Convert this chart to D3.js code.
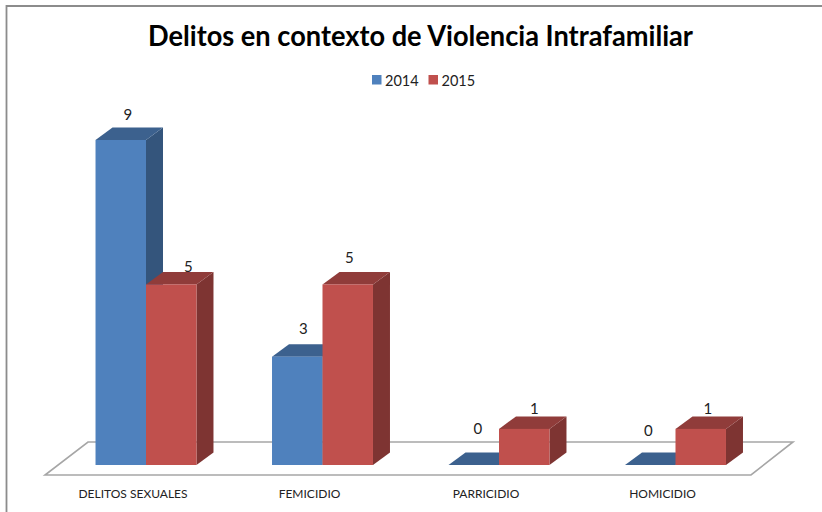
<!DOCTYPE html>
<html><head><meta charset="utf-8">
<script src="https://cdn.jsdelivr.net/npm/d3@7"></script>
<style>html,body{margin:0;padding:0;background:#fff}svg{display:block}text{font-family:Lato,"Open Sans",sans-serif;fill:#222}</style>
</head><body><svg id="c" width="822" height="512"></svg>
<script>
const titleText = "Delitos en contexto de Violencia Intrafamiliar";
const categories = ["DELITOS SEXUALES","FEMICIDIO","PARRICIDIO","HOMICIDIO"];
const seriesNames = ["2014","2015"];
const values2014 = [9,3,0,0];
const values2015 = [5,5,1,1];
const seriesValues = [values2014, values2015];
const palette = {"2014":{front:"#4f81bd",top:"#3c618e",side:"#34557c"},"2015":{front:"#c0504d",top:"#903c3a",side:"#7e3432"}};
// hand-placed data label nudges, as in the source chart (per series, per category)
const labelNudgeX = [[7,6,4,-2],[17,1.5,10,7]];
const labelNudgeY = [[-12.5,-15.5,-23.5,-21.5],[-5,-14,-7.5,-7.5]];

const svg = d3.select("#c");
const depthX = 17, depthY = -12.5;
// frame: only the left and top edges fall inside the picture
svg.append("path").attr("d",d3.line()([[6.5,512],[6.5,6],[822,6]])).attr("fill","none").attr("stroke","#8c8c8c").attr("stroke-width",1.8);

const x0 = d3.scaleBand().domain(categories).range([57.75,763.75]).paddingInner(0.428).paddingOuter(0.214);
const x1 = d3.scaleBand().domain(seriesNames).range([0,x0.bandwidth()]);
const y = d3.scaleLinear().domain([0,9]).range([465,140]);

// floor
const floorL = x0.range()[0]-12.75, floorR = x0.range()[1]-12.75, floorB = y(0)+10;
const floorPath = d3.path();
floorPath.moveTo(floorL,floorB); floorPath.lineTo(floorR,floorB);
floorPath.lineTo(floorR+42,floorB-33); floorPath.lineTo(floorL+43,floorB-33); floorPath.closePath();
svg.append("path").attr("d",floorPath.toString()).attr("fill","#fff").attr("stroke","#a6a6a6").attr("stroke-width",1.6);

// bars
const bars=[];
categories.forEach((c,i)=>seriesNames.forEach((s,j)=>bars.push({c,s,i,j,v:seriesValues[j][i]})));
const g = svg.append("g").selectAll("g").data(bars).join("g");
const poly = pts=>pts.map(p=>p.join(",")).join(" ");
g.each(function(d){
  const el=d3.select(this), l=x0(d.c)+x1(d.s), r=l+x1.bandwidth(), t=y(d.v), b=y(0), col=palette[d.s];
  el.append("polygon").attr("points",poly([[r,b],[r+depthX,b+depthY],[r+depthX,t+depthY],[r,t]])).attr("fill",col.side);
  el.append("polygon").attr("points",poly([[l,t],[l+depthX,t+depthY],[r+depthX,t+depthY],[r,t]])).attr("fill",col.top);
  el.append("rect").attr("x",l).attr("y",t).attr("width",x1.bandwidth()).attr("height",b-t).attr("fill",col.front);
});
// data labels on top of every bar
svg.append("g").selectAll("text").data(bars).join("text")
  .attr("x",d=>x0(d.c)+x1(d.s)+x1.bandwidth()/2+labelNudgeX[d.j][d.i])
  .attr("y",d=>y(d.v)+depthY+labelNudgeY[d.j][d.i]+5)
  .attr("text-anchor","middle").attr("font-size",15).text(d=>d.v);

// category labels
const axisG = svg.append("g").attr("transform","translate(-13,0)").call(d3.axisBottom(x0).tickSize(0).tickPadding(0));
axisG.select(".domain").remove();
axisG.selectAll("text").attr("y",498).attr("dy",0).attr("font-size",12).style("font-family","Lato,'Open Sans',sans-serif").style("fill","#222");

// title
svg.append("text").attr("x",420.5).attr("y",46).attr("text-anchor","middle").attr("font-size",29).attr("font-weight",700).attr("textLength",545).attr("lengthAdjust","spacingAndGlyphs").style("fill","#000").text(titleText);

// legend
const legend = svg.append("g").selectAll("g").data(seriesNames).join("g").attr("transform",(d,i)=>`translate(${372+i*56.5},0)`);
legend.append("rect").attr("y",75).attr("width",9.5).attr("height",9.5).attr("fill",d=>palette[d].front);
legend.append("text").attr("x",13).attr("y",85.5).attr("font-size",14.5).text(d=>d);
</script></body></html>
